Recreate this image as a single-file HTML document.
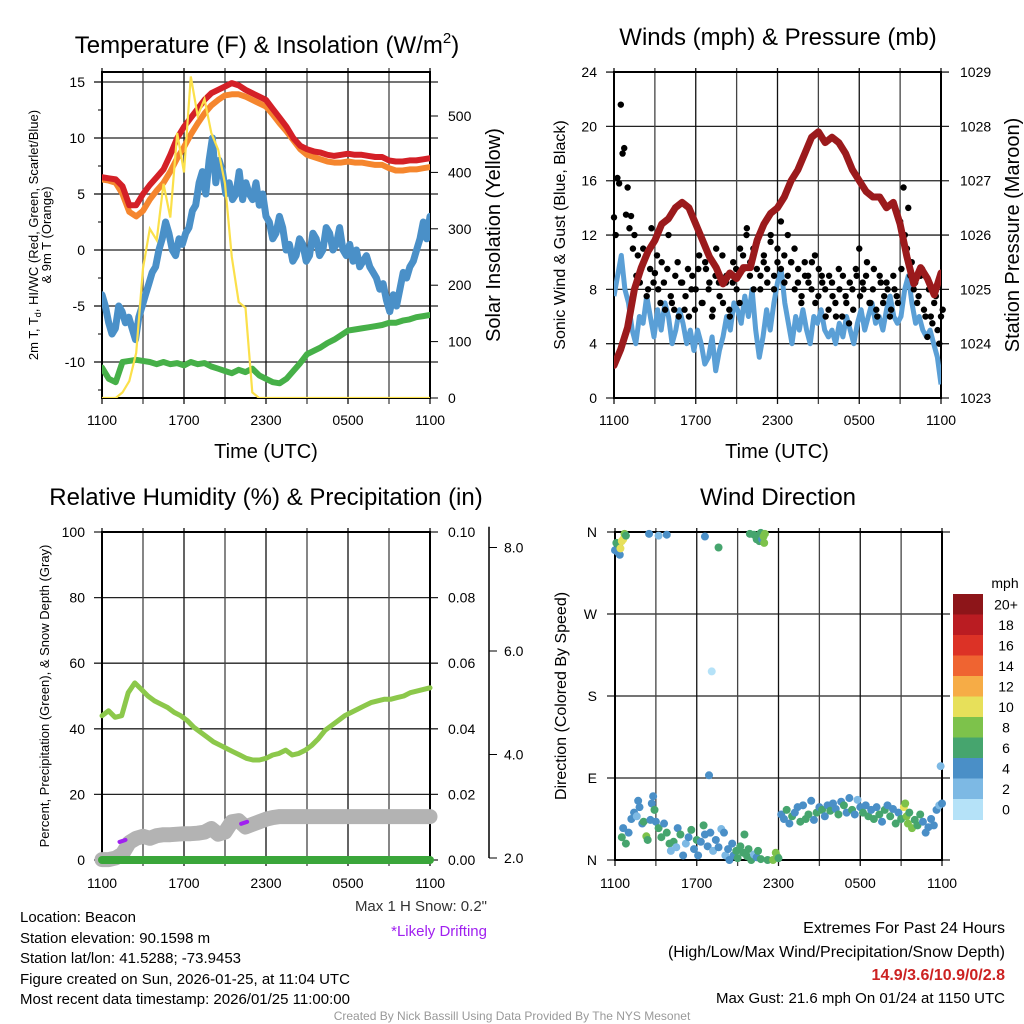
<!DOCTYPE html>
<html><head><meta charset="utf-8"><style>
html,body{margin:0;padding:0;background:#fff;}
svg{display:block;font-family:"Liberation Sans",sans-serif;}
</style></head><body>
<svg id="chart" width="1024" height="1024" viewBox="0 0 1024 1024" xmlns="http://www.w3.org/2000/svg">
<rect width="1024" height="1024" fill="#fff"/>
<g id="p1"></g>
<g id="p2"></g>
<g id="p3"></g>
<g id="p4"></g>

<text x="267" y="53" font-size="24" text-anchor="middle">Temperature (F) &amp; Insolation (W/m<tspan font-size="15" dy="-10">2</tspan><tspan dy="10">)</tspan></text>
<text x="778" y="45" font-size="24" text-anchor="middle">Winds (mph) &amp; Pressure (mb)</text>
<text x="266" y="505" font-size="24" text-anchor="middle">Relative Humidity (%) &amp; Precipitation (in)</text>
<text x="778" y="505" font-size="24" text-anchor="middle">Wind Direction</text>

<text x="266" y="458" font-size="20" text-anchor="middle">Time (UTC)</text>
<text x="777" y="458" font-size="20" text-anchor="middle">Time (UTC)</text>

<text transform="translate(38,235) rotate(-90)" font-size="13" text-anchor="middle">2m T, T<tspan font-size="9" dy="3">d</tspan><tspan dy="-3">, HI/WC (Red, Green, Scarlet/Blue)</tspan></text>
<text transform="translate(51,235) rotate(-90)" font-size="13" text-anchor="middle">&amp; 9m T (Orange)</text>
<text transform="translate(500,235) rotate(-90)" font-size="20" text-anchor="middle">Solar Insolation (Yellow)</text>
<text transform="translate(565,235) rotate(-90)" font-size="16" text-anchor="middle">Sonic Wind &amp; Gust (Blue, Black)</text>
<text transform="translate(1019,235) rotate(-90)" font-size="20" text-anchor="middle">Station Pressure (Maroon)</text>
<text transform="translate(49,696) rotate(-90)" font-size="13" text-anchor="middle">Percent, Precipitation (Green), &amp; Snow Depth (Gray)</text>
<text transform="translate(566,696) rotate(-90)" font-size="16" text-anchor="middle">Direction (Colored By Speed)</text>

<g font-size="15">
<text x="20" y="922">Location: Beacon</text>
<text x="20" y="943">Station elevation: 90.1598 m</text>
<text x="20" y="963">Station lat/lon: 41.5288; -73.9453</text>
<text x="20" y="984">Figure created on Sun, 2026-01-25, at 11:04 UTC</text>
<text x="20" y="1004">Most recent data timestamp: 2026/01/25 11:00:00</text>
</g>
<text x="487" y="911" font-size="15" text-anchor="end" fill="#333">Max 1 H Snow: 0.2"</text>
<text x="487" y="936" font-size="15" text-anchor="end" fill="#a020f0">*Likely Drifting</text>
<g font-size="16" text-anchor="end">
<text x="1005" y="933">Extremes For Past 24 Hours</text>
<text x="1005" y="957">(High/Low/Max Wind/Precipitation/Snow Depth)</text>
<text x="1005" y="980" fill="#cc2222" font-weight="bold">14.9/3.6/10.9/0/2.8</text>
<text x="1005" y="1003" font-size="15">Max Gust: 21.6 mph On 01/24 at 1150 UTC</text>
</g>
<text x="512" y="1020" font-size="12" text-anchor="middle" fill="#999">Created By Nick Bassill Using Data Provided By The NYS Mesonet</text>
</svg>
<script>
// ---------- data ----------
const xTickLabels = ["1100","1700","2300","0500","1100"];
const tempTicks = [-10,-5,0,5,10,15];
const solarTicks = [0,100,200,300,400,500];
const temp2m = [6.5,6.4,6.3,5.7,4.0,4.0,5.0,5.8,6.5,7.2,8.5,10.0,11.0,11.8,12.6,13.4,14.0,14.3,14.6,14.9,14.7,14.3,14.0,13.7,13.4,12.6,11.8,11.0,10.0,9.3,9.0,8.8,8.7,8.5,8.4,8.5,8.6,8.5,8.5,8.4,8.3,8.3,8.0,7.9,7.9,8.0,8.0,8.1,8.2];
const temp9m = [6.3,6.2,6.0,5.0,3.4,3.0,3.5,4.5,5.3,6.0,7.0,8.2,9.2,10.3,11.3,12.2,12.9,13.4,13.8,13.9,13.9,13.7,13.4,13.1,12.8,12.1,11.3,10.6,9.8,9.0,8.5,8.3,8.1,7.9,7.8,7.8,7.9,7.8,7.8,7.7,7.6,7.6,7.3,7.1,7.1,7.2,7.2,7.3,7.4];
const dewpoint = [-4,-5,-6.5,-7.5,-7,-5,-5.5,-6.5,-6,-7,-8,-6,-5,-4,-3,-2,-1.5,0,1,2.5,1.5,0,-0.5,1,0.5,1.5,2,3.5,4,6,7,5,8,10,6,8,7,5,6,4.5,5,7,4.5,6,5,4.5,6,4,5,3,2.5,1,1.5,3,2,0,0.5,-1,-0.5,1,0.5,-1,-0.5,1.5,1,-0.5,0,2,1.5,0,0.5,2,0,-0.5,0.5,-1,0,-1.5,-1,-0.5,-1.5,-2,-2.5,-3.5,-3,-4.5,-5.5,-4,-5,-3.5,-2,-2.5,-1.5,-1,0,1,2.5,1,3];
const windChill = [-10.5,-11.5,-11.8,-10.0,-9.9,-9.8,-9.9,-10.0,-10.2,-10.0,-10.2,-10.1,-10.3,-10.0,-10.2,-10.1,-10.4,-10.6,-10.8,-11.0,-10.7,-10.9,-10.6,-11.2,-11.5,-11.8,-11.9,-11.5,-10.8,-10.1,-9.3,-9.0,-8.7,-8.3,-8.0,-7.6,-7.2,-7.1,-7.0,-6.9,-6.8,-6.7,-6.5,-6.5,-6.3,-6.2,-6.0,-5.9,-5.8];
const solar = [0,0,0,10,30,80,230,300,280,380,320,470,400,570,500,530,470,440,380,250,170,160,10,0,0,0,0,0,0,0,0,0,0,0,0,0,0,0,0,0,0,0,0,0,0,0,0,0,0];

const windTicks = [0,4,8,12,16,20,24];
const pressTicks = [1023,1024,1025,1026,1027,1028,1029];
const windSpeed = [7.5,9,10.5,8,7,5,4,6,5.5,7.5,6,4.5,6.5,5,7,6,4,5,6.5,5.5,4,5,3.5,5,4,2.5,3,4.5,2,3.5,4.5,6,5,7,6.5,5.5,7.5,6,8,5,3,4.5,6.5,5,7,8.5,9.5,7,5.5,4,6,5,6.5,5,4,6,5.5,6.5,5,4.5,5,4,5.5,4.5,6,5,4,5.5,6.5,5,6,7,5.5,6,5,6.5,7.5,6,5.5,6,8,9,7,5.5,6,5,4.5,5,4,3,1];
const pressure = [1023.6,1023.9,1024.3,1025.0,1025.4,1025.7,1025.9,1026.2,1026.3,1026.5,1026.6,1026.5,1026.2,1025.9,1025.6,1025.4,1025.1,1025.3,1025.2,1025.4,1025.4,1025.9,1026.2,1026.4,1026.5,1026.7,1027.0,1027.2,1027.5,1027.8,1027.9,1027.7,1027.8,1027.7,1027.5,1027.2,1027.0,1026.8,1026.7,1026.7,1026.5,1026.6,1026.2,1025.6,1025.1,1025.4,1025.2,1024.9,1025.3];
const gust = [13.3,16.2,21.6,18.4,15.5,13.4,12.0,10.5,9.5,10.2,8.0,12.5,9.2,8.0,10.0,6.5,12.0,7.0,9.0,6.0,8.5,7.5,6.0,9.0,8.0,10.5,7.0,9.5,8.5,6.5,11.0,7.5,7.0,9.0,6.0,10.0,8.0,11.0,9.5,12.5,10.0,8.0,11.5,9.0,10.5,8.5,12.0,9.0,11.0,13.0,10.5,9.0,10.0,11.0,8.5,7.0,10.0,9.0,8.0,10.5,7.5,9.0,8.0,6.5,8.5,7.0,9.5,6.0,7.5,5.5,8.0,9.5,11.0,8.5,9.0,7.0,8.0,6.5,9.0,7.0,8.5,6.0,9.0,7.5,13.0,15.5,11.0,9.0,8.0,7.0,9.0,6.5,4.5,6.0,7.0,5.0,6.0];
const gust2 = [12.0,15.8,18.0,13.5,12.5,11.0,9.0,8.5,11.0,7.5,9.5,8.5,10.5,7.0,8.5,9.5,7.5,6.5,10.0,8.5,6.5,9.5,8.0,6.5,9.5,7.0,10.0,8.0,6.0,9.0,8.5,10.5,8.5,6.5,8.5,9.5,7.0,10.5,12.0,9.0,11.0,9.5,8.0,10.0,9.5,11.5,8.0,10.0,9.5,8.5,12.0,10.0,8.0,9.5,7.5,9.0,8.5,10.0,7.0,9.5,8.5,6.0,9.0,7.5,6.0,8.0,9.0,7.0,8.5,6.5,9.0,7.5,8.0,10.0,7.0,9.5,6.0,8.5,7.5,8.0,6.5,8.0,7.0,9.5,12.0,14.0,10.0,8.5,7.5,9.5,6.0,8.0,5.5,7.5,4.0,6.5];

const rhTicks = [0,20,40,60,80,100];
const precipTicks = ["0.00","0.02","0.04","0.06","0.08","0.10"];
const snowTicks = [2,4,6,8];
const humidity = [44,45.5,43.5,44,51,54,52,50,48.5,47.5,46.5,45,44,42.5,40.5,39,37.5,36,35,34,33,32,31,30.5,30.5,31,32,32.5,33.5,32,32.5,33.5,35,37,39.5,41,42.5,44,45,46,47,48,48.5,49,49,49.5,50,51,51.5,52,52.5];
const snowDepth = [1.97,1.97,2.0,2.08,2.3,2.38,2.42,2.38,2.43,2.45,2.45,2.46,2.47,2.47,2.48,2.5,2.57,2.46,2.5,2.7,2.72,2.6,2.65,2.7,2.75,2.78,2.8,2.8,2.8,2.8,2.8,2.8,2.8,2.8,2.8,2.8,2.8,2.8,2.8,2.8,2.8,2.8,2.8,2.8,2.8,2.8,2.8,2.8,2.8];
const precip = [0,0,0,0,0,0,0,0,0,0,0,0,0,0,0,0,0,0,0,0,0,0,0,0,0];
const driftHour = [1.5,10.4];
const driftSnow = [2.33,2.68];

const dirLabels = ["N","E","S","W","N"];
const wdHour = [0,0.1,0.2,0.3,0.35,0.4,0.5,0.6,0.7,0.8,2.5,3.2,3.8,6.6,7.6,9.9,10.2,10.4,10.5,10.6,10.7,10.8,10.9,10.95,11.0,7.1,6.9,23.9,
0.5,0.6,0.8,1.0,1.2,1.4,1.6,1.7,1.8,2.0,2.1,2.3,2.4,2.6,2.7,2.8,2.9,3.0,3.2,3.4,3.6,3.8,4.0,4.1,4.3,4.5,4.6,4.8,5.0,5.2,5.4,5.6,5.8,6.0,6.1,6.3,6.5,6.6,6.8,7.0,7.2,7.4,7.6,7.8,8.0,8.1,8.3,8.4,8.6,8.7,8.9,9.0,9.2,9.4,9.5,9.7,9.8,10.0,10.2,10.4,10.5,10.7,11.2,11.6,11.8,11.9,12.0,
12.2,12.4,12.6,12.8,13.0,13.2,13.4,13.6,13.8,14.0,14.2,14.4,14.6,14.8,15.0,15.2,15.4,15.6,15.8,16.0,16.2,16.4,16.6,16.8,17.0,17.2,17.4,17.6,17.8,18.0,18.2,18.4,18.6,18.8,19.0,19.2,19.4,19.6,19.8,20.0,20.2,20.4,20.6,20.8,21.0,21.2,21.3,21.4,21.5,21.6,21.8,22.0,22.2,22.4,22.6,22.8,23.0,23.2,23.4,23.6,23.8,24.0];
const wdDir = [340,348,338,345,335,342,350,352,358,356,358,356,357,355,343,358,357,352,355,350,359,352,355,348,358,207,93,103,
25,35,18,30,45,52,48,65,58,40,42,26,22,44,62,70,55,42,35,25,40,30,18,10,20,14,35,28,5,18,25,33,12,22,5,20,38,28,15,30,10,22,14,34,30,5,12,0,18,5,10,2,15,8,28,4,12,0,6,3,10,1,0,0,8,4,2,
50,45,55,40,48,52,58,42,60,45,50,65,44,52,58,55,48,60,54,62,56,50,64,60,52,68,55,50,66,58,52,60,48,55,45,58,50,42,55,60,48,56,40,52,45,58,62,48,40,52,35,44,38,50,42,30,36,45,38,55,60,62];
const wdSpeed = [4,6,4,6,4,10,10,10,8,6,4,2,4,4,6,6,6,6,6,6,6,4,8,8,8,0,4,2,
6,4,6,4,5,4,3,4,4,5,6,8,6,5,4,4,6,4,6,6,4,6,6,2,6,2,4,6,4,2,4,6,4,6,4,4,6,4,4,4,2,4,4,2,4,2,4,4,4,4,6,6,6,6,6,7,6,6,2,4,6,6,6,8,8,8,7,
4,4,6,4,6,4,4,6,4,6,6,4,4,6,4,6,4,4,6,4,4,6,4,6,4,4,6,4,2,4,6,4,6,4,6,4,6,4,6,4,6,4,6,4,6,10,8,8,8,6,8,6,6,6,4,4,4,4,4,4,2,4];
const speedBins = [0,2,4,6,8,10,12,14,16,18,20];
const speedLabels = ["0","2","4","6","8","10","12","14","16","18","20+"];
const speedColors = ["#b5e2f8","#7db9e4","#4a8fc7","#46a56e","#7dc24b","#e7e05a","#f6ac46","#ef6431","#dc3226","#ba1c22","#8d1519"];

// ---------- helpers ----------
const NS = "http://www.w3.org/2000/svg";
function mk(parent, tag, attrs, text){
  const e = document.createElementNS(NS, tag);
  for (const k in attrs) e.setAttribute(k, attrs[k]);
  if (text !== undefined) e.textContent = text;
  parent.appendChild(e);
  return e;
}
function linePath(hours, vals, xf, yf){
  let d = "";
  for (let i=0;i<vals.length;i++){ d += (i?"L":"M") + xf(hours[i]).toFixed(1) + "," + yf(vals[i]).toFixed(1); }
  return d;
}
function evenHours(n){ const a=[]; for(let i=0;i<n;i++) a.push(i*24/(n-1)); return a; }

function frame(g, name, x0, x1, y0, y1, hLines, xTickY){
  for (const y of hLines){
    const l = mk(g,"line",{x1:x0-8,x2:x1+8,y1:y,y2:y,stroke:"#222","stroke-width":1.3});
    
    
  }
  for (let i=0;i<=8;i++){
    const x = x0 + (x1-x0)*i/8;
    const l = mk(g,"line",{x1:x,x2:x,y1:y0-4,y2:y1+6,stroke: i%2? "#444":"#111","stroke-width":1.3});
    
    
  }
  const r = mk(g,"rect",{x:x0,y:y0,width:x1-x0,height:y1-y0,fill:"none",stroke:"#000","stroke-width":2});
  
  
  for (let i=0;i<xTickLabels.length;i++){
    const t = mk(g,"text",{x:x0+(x1-x0)*i/4,y:xTickY,"font-size":14,"text-anchor":"middle"},xTickLabels[i]);
    
    
  }
}

// ---------- Panel 1 ----------
(function(){
  const g = document.getElementById("p1");
  const X0=102,X1=430,Y0=72,Y1=398;
  const x = h => X0 + h*(X1-X0)/24;
  const yT = v => 250 - v*11.2;
  const yS = v => 398 - v*0.564;
  frame(g,"temp",X0,X1,Y0,Y1,tempTicks.map(yT),425);
  for (const v of tempTicks){
    const t = mk(g,"text",{x:85,y:yT(v)+5,"font-size":14,"text-anchor":"end"},String(v));
    
    
  }
  for (let v=-12.5; v<16; v+=2.5){
    const tk = mk(g,"line",{x1:X0-(v%5===0?8:4),x2:X0,y1:yT(v),y2:yT(v),stroke:"#000","stroke-width":1});
    
    
  }
  for (const v of solarTicks){
    const t = mk(g,"text",{x:448,y:yS(v)+5,"font-size":14},String(v));
    
    
    const tk = mk(g,"line",{x1:X1,x2:X1+8,y1:yS(v),y2:yS(v),stroke:"#000","stroke-width":1});
    
    
  }
  const c = mk(g,"clipPath",{id:"clip1"}); mk(c,"rect",{x:X0,y:Y0,width:X1-X0,height:Y1-Y0});
  const series = [
    [windChill,"#46b048",6,"wind-chill-line"],
    [dewpoint,"#4a90c8",7,"dewpoint-line"],
    [temp9m,"#f5862e",6,"temp-9m-line"],
    [temp2m,"#d42027",6,"temp-2m-line"]];
  for (const s of series){
    const p = mk(g,"path",{d:linePath(evenHours(s[0].length),s[0],x,yT),fill:"none",stroke:s[1],"stroke-width":s[2],"stroke-linejoin":"round","stroke-linecap":"round","clip-path":"url(#clip1)"});
    
    
  }
  const sp = mk(g,"path",{d:linePath(evenHours(solar.length),solar,x,yS),fill:"none",stroke:"#fbe04a","stroke-width":2.2,"clip-path":"url(#clip1)"});
  
  
})();

// ---------- Panel 2 ----------
(function(){
  const g = document.getElementById("p2");
  const X0=614,X1=941,Y0=72,Y1=398;
  const x = h => X0 + h*(X1-X0)/24;
  const yW = v => 398 - v*13.58;
  const yP = v => 398 - (v-1023)*54.33;
  frame(g,"wind",X0,X1,Y0,Y1,windTicks.map(yW),425);
  for (const v of windTicks){
    const t = mk(g,"text",{x:597,y:yW(v)+5,"font-size":14,"text-anchor":"end"},String(v));
    
    
  }
  for (const v of pressTicks){
    const t = mk(g,"text",{x:960,y:yP(v)+5,"font-size":14},String(v));
    
    
  }
  const c = mk(g,"clipPath",{id:"clip2"}); mk(c,"rect",{x:X0,y:Y0,width:X1-X0,height:Y1-Y0});
  const wp = mk(g,"path",{d:linePath(evenHours(windSpeed.length),windSpeed,x,yW),fill:"none",stroke:"#5a9fd6","stroke-width":5,"stroke-linejoin":"round","clip-path":"url(#clip2)"});
  
  
  const gh = evenHours(gust.length);
  for (let i=0;i<gust.length;i++){
    const d = mk(g,"circle",{cx:x(gh[i]),cy:yW(gust[i]),r:3.2,fill:"#000"});
    
    
  }
  const gh2 = evenHours(gust2.length);
  for (let i=0;i<gust2.length;i++){
    const d = mk(g,"circle",{cx:x(gh2[i])+1.7,cy:yW(gust2[i]),r:3.2,fill:"#000"});
    
    
  }
  const pp = mk(g,"path",{d:linePath(evenHours(pressure.length),pressure,x,yP),fill:"none",stroke:"#9b1a1c","stroke-width":7,"stroke-linejoin":"round","stroke-linecap":"round","clip-path":"url(#clip2)"});
  
  
})();

// ---------- Panel 3 ----------
(function(){
  const g = document.getElementById("p3");
  const X0=102,X1=430,Y0=532,Y1=860;
  const x = h => X0 + h*(X1-X0)/24;
  const yR = v => 860 - v*3.28;
  const yN = v => 858 - (v-2)*51.75;
  frame(g,"humidity",X0,X1,Y0,Y1,rhTicks.map(yR),888);
  for (let i=0;i<rhTicks.length;i++){
    const t = mk(g,"text",{x:85,y:yR(rhTicks[i])+5,"font-size":14,"text-anchor":"end"},String(rhTicks[i]));
    
    
    const t2 = mk(g,"text",{x:448,y:yR(rhTicks[i])+5,"font-size":14},precipTicks[i]);
    
    
  }
  const ax = mk(g,"line",{x1:489,x2:489,y1:yN(8.4),y2:yN(2),stroke:"#000","stroke-width":1.5});
  
  
  for (const v of snowTicks){
    const tk = mk(g,"line",{x1:489,x2:497,y1:yN(v),y2:yN(v),stroke:"#000","stroke-width":1});
    
    
    const t = mk(g,"text",{x:504,y:yN(v)+5,"font-size":14},v.toFixed(1));
    
    
  }
  const sp = mk(g,"path",{d:linePath(evenHours(snowDepth.length),snowDepth,x,yN),fill:"none",stroke:"#b3b3b3","stroke-width":15,"stroke-linejoin":"round","stroke-linecap":"round"});
  
  
  for (let i=0;i<driftHour.length;i++){
    const d = mk(g,"line",{x1:x(driftHour[i])-3,x2:x(driftHour[i])+3,y1:yN(driftSnow[i])+1,y2:yN(driftSnow[i])-1,stroke:"#a020f0","stroke-width":4,"stroke-linecap":"round"});
    
    
  }
  const pr = mk(g,"path",{d:linePath(evenHours(precip.length),precip,x,v=>yR(v*1000)),fill:"none",stroke:"#3aa63a","stroke-width":8,"stroke-linecap":"round"});
  
  
  const rh = mk(g,"path",{d:linePath(evenHours(humidity.length),humidity,x,yR),fill:"none",stroke:"#8cc84b","stroke-width":5,"stroke-linejoin":"round","stroke-linecap":"round"});
  
  
})();

// ---------- Panel 4 ----------
(function(){
  const g = document.getElementById("p4");
  const X0=615,X1=942,Y0=532,Y1=860;
  const x = h => X0 + h*(X1-X0)/24;
  const yD = d => 860 - d*328/360;
  frame(g,"direction",X0,X1,Y0,Y1,[0,90,180,270,360].map(yD),888);
  for (let i=0;i<dirLabels.length;i++){
    const t = mk(g,"text",{x:597,y:yD(i*90)+5,"font-size":14,"text-anchor":"end"},dirLabels[i]);
    
    
  }
  function colorFor(s){ let k=0; for(let i=0;i<speedBins.length;i++) if (s>=speedBins[i]) k=i; return speedColors[k]; }
  for (let i=0;i<wdHour.length;i++){
    const d = mk(g,"circle",{cx:x(wdHour[i]),cy:yD(wdDir[i]),r:4,fill:colorFor(wdSpeed[i])});
    
    
  }
  const cbTop=594, cbH=20.5;
  const u = mk(g,"text",{x:1005,y:588,"font-size":14,"text-anchor":"middle"},"mph");
  
  
  for (let i=0;i<speedColors.length;i++){
    const k = speedColors.length-1-i;
    const r = mk(g,"rect",{x:953,y:cbTop+i*cbH,width:30,height:cbH+0.5,fill:speedColors[k]});
    
    
    const t = mk(g,"text",{x:1006,y:cbTop+i*cbH+cbH/2+5,"font-size":14,"text-anchor":"middle"},speedLabels[k]);
    
    
  }
})();
</script>
</body></html>
